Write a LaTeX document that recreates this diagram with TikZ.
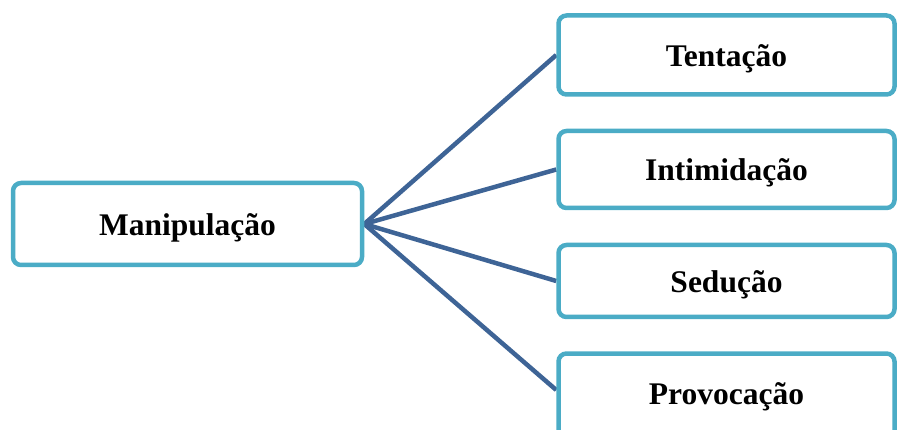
\documentclass[tikz,border=0pt]{standalone}
\usepackage{fontspec}
\setmainfont{Liberation Serif}
\usetikzlibrary{backgrounds}
\definecolor{boxborder}{RGB}{75,172,198}
\definecolor{linkcol}{RGB}{62,100,150}
\begin{document}
\begin{tikzpicture}[x=1pt,y=1pt,
  box/.style={draw=boxborder,line width=4.5pt,rounded corners=8pt,fill=white,
    inner sep=0pt,text height=23pt,text depth=0pt,
    font=\bfseries\fontsize{31.5}{34}\selectfont},
  link/.style={draw=linkcol,line width=4.5pt}]
\useasboundingbox (0,0) rectangle (897,-430);
\clip (0,0) rectangle (897,-430);
\node[box,minimum width=349pt,minimum height=82pt] (m) at (187.5,-224) {Manipulação};
\node[box,minimum width=336pt,minimum height=79pt] (t) at (726.5,-55) {Tentação};
\node[box,minimum width=336pt,minimum height=77pt] (i) at (726.5,-169.5) {Intimidação};
\node[box,minimum width=336pt,minimum height=72pt] (s) at (726.5,-281) {Sedução};
\node[box,minimum width=336pt,minimum height=85pt,text depth=6pt] (p) at (726.5,-396) {Provocação};
\coordinate (pend) at ([yshift=6pt]p.west);
\begin{scope}[on background layer]
\draw[link] (m.east) -- (t.west);
\draw[link] (m.east) -- (i.west);
\draw[link] (m.east) -- (s.west);
\draw[link] (m.east) -- (pend);
\end{scope}
\end{tikzpicture}
\end{document}
